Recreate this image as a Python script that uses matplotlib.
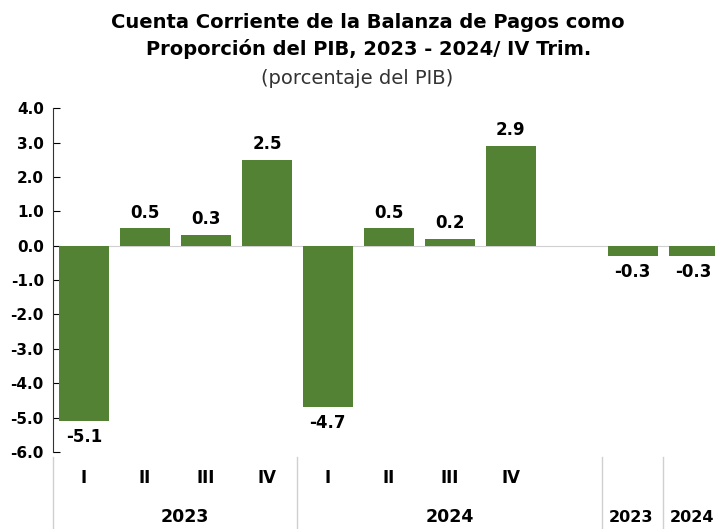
import matplotlib.pyplot as plt
import matplotlib.transforms as mtransforms

# datos
quarters = ['I', 'II', 'III', 'IV', 'I', 'II', 'III', 'IV']
q_values = [-5.1, 0.5, 0.3, 2.5, -4.7, 0.5, 0.2, 2.9]
years = ['2023', '2024']
year_values = [-0.3, -0.3]

plt.rcParams['font.family'] = ['DejaVu Sans']
green = '#548235'

fig = plt.figure(figsize=(7.15, 5.29), dpi=100)
ax = fig.add_axes([0.0748, 0.1456, 0.938, 0.650])

x_q = list(range(len(quarters)))
x_y = [len(quarters) + 1 + i for i in range(len(years))]
xs = x_q + x_y
vals = q_values + year_values

ax.bar(xs, vals, width=0.82, color=green, zorder=3)
ax.axhline(0, color='#d0d0d0', lw=0.8, zorder=1)

for x, v in zip(xs, vals):
    if v >= 0:
        ax.text(x, v + 0.2, f'{v:.1f}', ha='center', va='bottom',
                fontsize=12, fontweight='bold')
    else:
        ax.text(x, v - 0.2, f'{v:.1f}', ha='center', va='top',
                fontsize=12, fontweight='bold')

ax.set_xlim(-0.5, 10.5)
ax.set_ylim(-6, 4)
ax.set_yticks(range(-6, 5))
ax.set_yticklabels([f'{t:.1f}' for t in range(-6, 5)], fontsize=11, fontweight='bold')
ax.tick_params(axis='y', direction='in', length=5, width=0.8, pad=7)
ax.set_xticks([])
for s in ['top', 'right', 'bottom']:
    ax.spines[s].set_visible(False)
ax.spines['left'].set_color('#333333')

# etiquetas de categoria
trans = mtransforms.blended_transform_factory(ax.transData, ax.transAxes)
for x, q in zip(x_q, quarters):
    ax.text(x, -0.075, q, transform=trans, ha='center', va='center',
            fontsize=12, fontweight='bold')
ax.text(1.65, -0.19, '2023', transform=trans, ha='center', va='center',
        fontsize=12.5, fontweight='bold')
ax.text(6.0, -0.19, '2024', transform=trans, ha='center', va='center',
        fontsize=12.5, fontweight='bold')
for x, y in zip(x_y, years):
    ax.text(x - 0.03, -0.19, y, transform=trans, ha='center', va='center',
            fontsize=11.5, fontweight='bold')
for x in [-0.5, 3.5, 8.5, 9.5]:
    ax.plot([x, x], [-0.015, -0.25], transform=trans, color='#d0d0d0',
            lw=1, clip_on=False)

fig.text(0.515, 0.932, 'Cuenta Corriente de la Balanza de Pagos como\nProporción del PIB, 2023 - 2024/ IV Trim.',
         ha='center', va='center', fontsize=14, fontweight='bold', linespacing=1.4)
fig.text(0.5, 0.852, '(porcentaje del PIB)', ha='center', va='center',
         fontsize=14, color='#333333')

fig.savefig('out.png', dpi=100)
